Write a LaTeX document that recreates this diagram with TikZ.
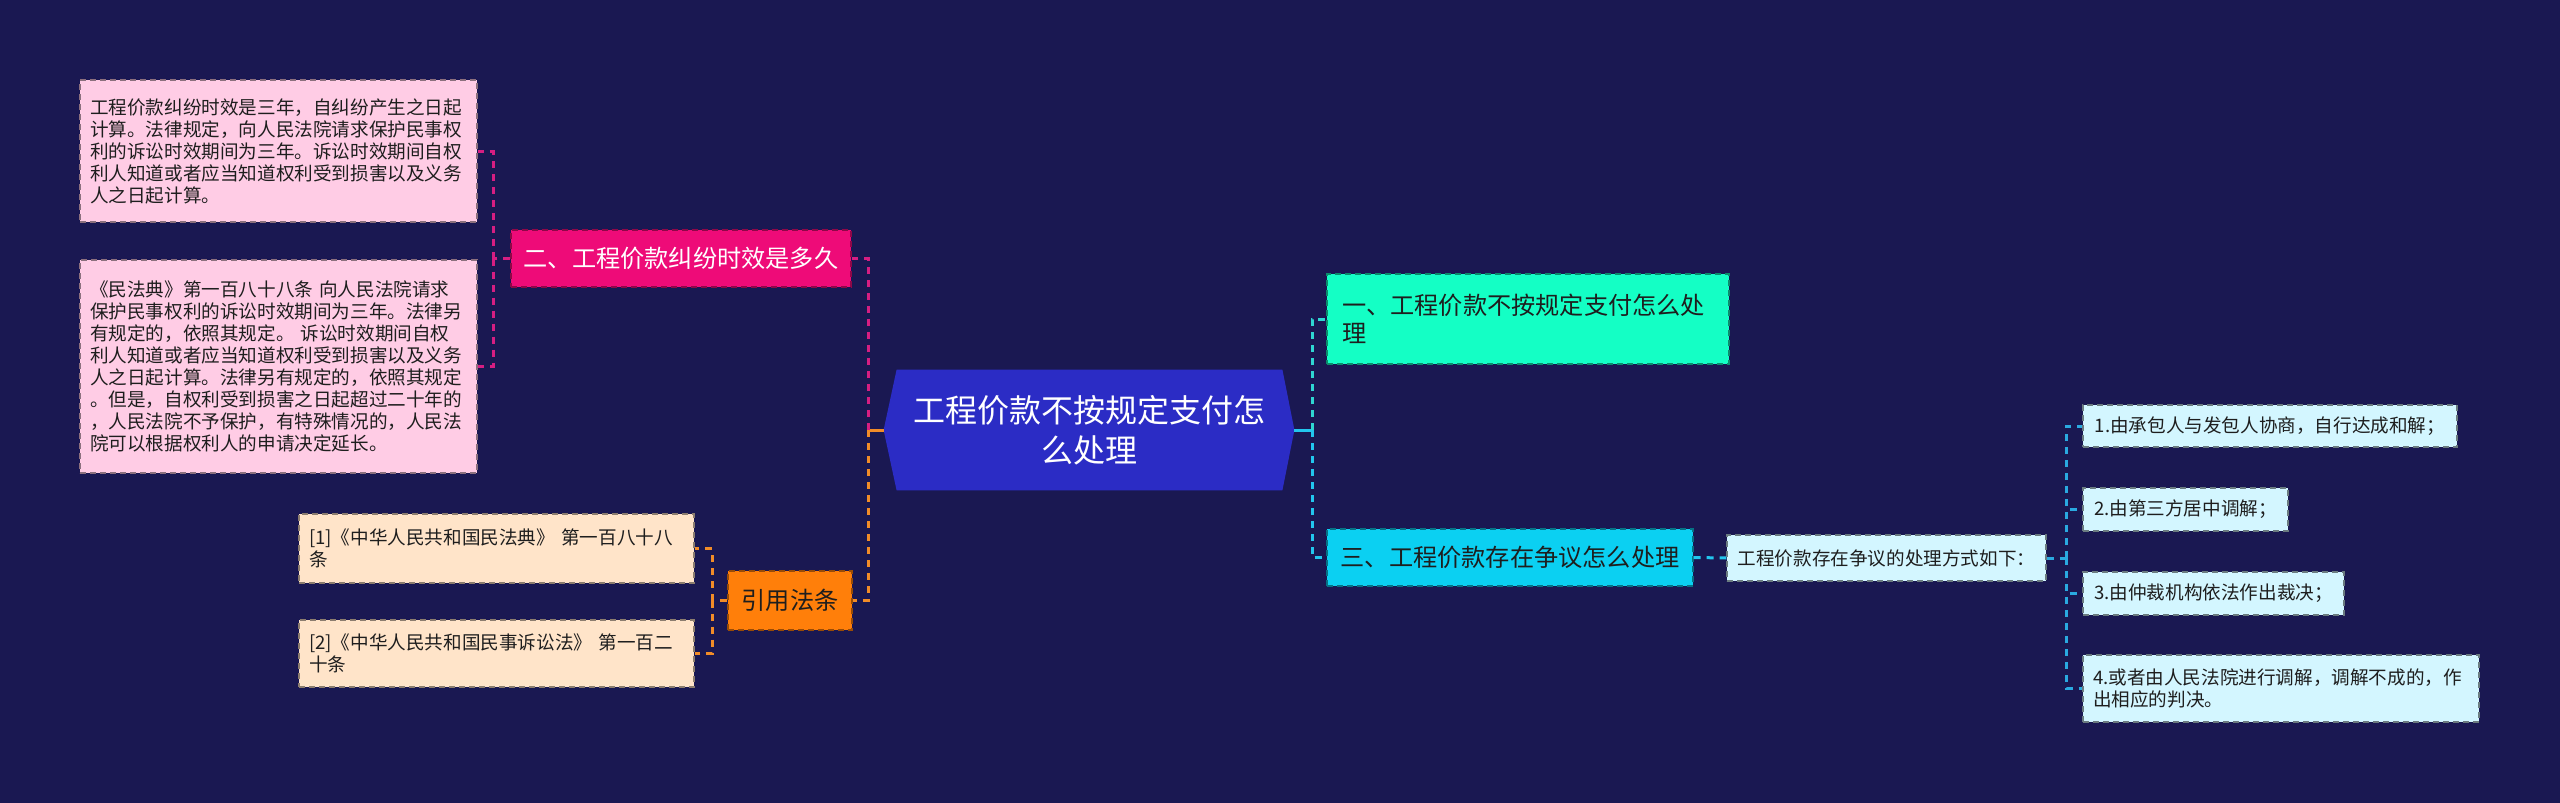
\documentclass[tikz,border=0pt]{standalone}
\usepackage{fontspec}
\newfontfamily\cjkfont{Noto Sans CJK SC}
\usepackage{xcolor}
\definecolor{mapBg}{HTML}{1A1852}
\definecolor{mapRoot}{HTML}{2B2CC5}
\definecolor{mapMagenta}{HTML}{EE0B78}
\definecolor{mapPink}{HTML}{FFCCE5}
\definecolor{mapOrange}{HTML}{FF7F0A}
\definecolor{mapPeach}{HTML}{FFE4C9}
\definecolor{mapMint}{HTML}{14FFC5}
\definecolor{mapCyan}{HTML}{0BD0F2}
\definecolor{mapIce}{HTML}{D3F6FF}
\definecolor{lineMagenta}{HTML}{D61E82}
\definecolor{lineOrange}{HTML}{F28C28}
\definecolor{lineTeal}{HTML}{2FD6D2}
\definecolor{lineCyan}{HTML}{22C6EE}
\definecolor{lineBlue}{HTML}{2AA9E0}
\definecolor{inkDark}{HTML}{1E1E1E}
\usepackage{tikz}
\pgfdeclarelayer{back}
\pgfsetlayers{back,main}

\begin{document}
\begin{tikzpicture}[x=0.5pt, y=-0.5pt,
  box/.style={rectangle, inner xsep=5pt, inner ysep=2pt, line width=0.6pt,
    dash pattern=on 3pt off 2pt, text=inkDark,
    font=\cjkfont\fontsize{9.3}{11}\selectfont},
  hub/.style={box, font=\cjkfont\fontsize{12.1}{14}\selectfont},
  pinkBox/.style={box, fill=mapPink, draw=mapPink!55!black, align=left},
  peachBox/.style={box, fill=mapPeach, draw=mapPeach!55!black, align=left},
  iceBox/.style={box, fill=mapIce, draw=mapIce!50!black},
  link/.style={line width=1.5pt, dash pattern=on 3.5pt off 3pt}]
  \useasboundingbox (0,0) rectangle (2560,803);
  % ------- root -------
  \node[text=white, font=\cjkfont\fontsize{16}{20}\selectfont, text width=190pt,
    align=center, minimum width=205pt, minimum height=60pt, inner sep=0pt]
    (root) at (1089,430) {工程价款不按规定支付怎\\么处理};
  % ------- left branches -------
  \node[hub, fill=mapMagenta, draw=mapMagenta!60!black, text=white,
    minimum width=170pt, minimum height=28.5pt] (secB) at (681,258.5)
    {二、工程价款纠纷时效是多久};
  \node[pinkBox, text width=188.5pt, minimum height=71pt] (tA) at (278.5,151)
    {工程价款纠纷时效是三年，自纠纷产生之日起\\
     计算。法律规定，向人民法院请求保护民事权\\
     利的诉讼时效期间为三年。诉讼时效期间自权\\
     利人知道或者应当知道权利受到损害以及义务\\
     人之日起计算。};
  \node[pinkBox, text width=188.5pt, minimum height=106.5pt] (tB) at (278.5,366.5)
    {《民法典》第一百八十八条~向人民法院请求\\
     保护民事权利的诉讼时效期间为三年。法律另\\
     有规定的，依照其规定。~诉讼时效期间自权\\
     利人知道或者应当知道权利受到损害以及义务\\
     人之日起计算。法律另有规定的，依照其规定\\
     。但是，自权利受到损害之日起超过二十年的\\
     ，人民法院不予保护，有特殊情况的，人民法\\
     院可以根据权利人的申请决定延长。};
  \node[hub, fill=mapOrange, draw=mapOrange!60!black,
    minimum width=62pt, minimum height=29.5pt] (secC) at (790,600.5) {引用法条};
  \node[peachBox, text width=187.5pt, minimum height=34.5pt] (citeA) at (496.5,548.5)
    {[1]《中华人民共和国民法典》~第一百八十八\\条};
  \node[peachBox, text width=187.5pt, minimum height=33.5pt] (citeB) at (496.5,653.5)
    {[2]《中华人民共和国民事诉讼法》~第一百二\\十条};
  % ------- right branches -------
  \node[hub, fill=mapMint, draw=mapMint!55!black, inner xsep=7.5pt,
    text width=186pt, align=left, minimum height=45pt] (secA) at (1528,319)
    {一、工程价款不按规定支付怎么处\\理};
  \node[hub, fill=mapCyan, draw=mapCyan!55!black,
    minimum width=183pt, minimum height=28.5pt] (secD) at (1510,557.5)
    {三、工程价款存在争议怎么处理};
  \node[iceBox, minimum width=159.5pt, minimum height=23pt] (info) at (1886.5,558)
    {工程价款存在争议的处理方式如下：};
  \node[iceBox, minimum width=187pt, minimum height=21pt] (wayA) at (2270,426)
    {1.由承包人与发包人协商，自行达成和解；};
  \node[iceBox, minimum width=102.5pt, minimum height=21.5pt] (wayB) at (2185.5,509.5)
    {2.由第三方居中调解；};
  \node[iceBox, minimum width=130.5pt, minimum height=21.5pt] (wayC) at (2213.5,593.5)
    {3.由仲裁机构依法作出裁决；};
  \node[iceBox, align=left, text width=188pt, minimum height=33.5pt] (wayD) at (2281,688.5)
    {4.或者由人民法院进行调解，调解不成的，作\\出相应的判决。};
  % ------- background and root shape -------
  \begin{pgfonlayer}{back}
    \fill[mapBg] (0,0) rectangle (2560,803);
    \fill[mapRoot] (root.west) -- ([xshift=6.5pt]root.north west)
      -- ([xshift=-6pt]root.north east) -- (root.east)
      -- ([xshift=-6pt]root.south east) -- ([xshift=6.5pt]root.south west) -- cycle;
  \end{pgfonlayer}
  % ------- connectors -------
  \coordinate (jL) at (868,430);
  \coordinate (jR) at (1312,430);
  \coordinate (jB) at (493,258.5);
  \coordinate (jC) at (712,600.5);
  \coordinate (jD) at (2066,558);
  \draw[lineOrange, line width=1.5pt] (root.west) -- (jL);
  \draw[link, lineMagenta] (jL) |- (secB.east);
  \draw[link, lineOrange] (jL) |- (secC.east);
  \draw[link, lineMagenta] (secB.west) -- (jB);
  \foreach \nd in {tA,tB} \draw[link, lineMagenta] (jB) |- (\nd.east);
  \draw[link, lineOrange] (secC.west) -- (jC);
  \foreach \nd in {citeA,citeB} \draw[link, lineOrange] (jC) |- (\nd.east);
  \draw[lineCyan, line width=1.5pt] (root.east) -- (jR);
  \draw[link, lineTeal] (jR) |- (secA.west);
  \draw[link, lineCyan] (jR) |- (secD.west);
  \draw[link, lineCyan] (secD.east) -- (info.west);
  \draw[link, lineBlue] (info.east) -- (jD);
  \foreach \nd in {wayA,wayB,wayC,wayD} \draw[link, lineBlue] (jD) |- (\nd.west);
\end{tikzpicture}
\end{document}
